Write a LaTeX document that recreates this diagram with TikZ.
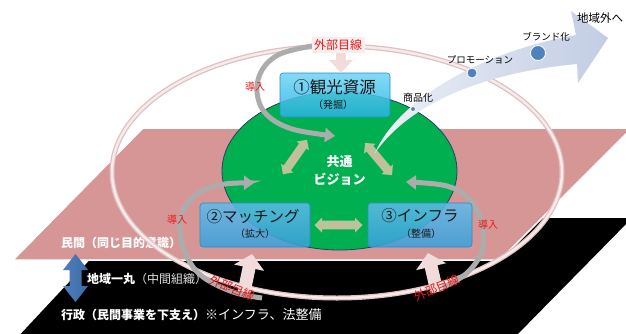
\documentclass[tikz,border=0pt]{standalone}
\usepackage{fontspec}
\setmainfont{Noto Sans CJK JP}
\usetikzlibrary{arrows.meta,shapes.arrows,shapes.geometric}
\definecolor{pinkbase}{RGB}{214,150,150}
\definecolor{greenv}{RGB}{0,176,80}
\definecolor{greenedge}{RGB}{40,60,110}
\definecolor{boxAtop}{RGB}{110,212,246}
\definecolor{boxAbot}{RGB}{40,178,228}
\definecolor{boxBtop}{RGB}{95,188,236}
\definecolor{boxBbot}{RGB}{55,160,220}
\definecolor{boxedge}{RGB}{40,140,200}
\definecolor{ringpink}{RGB}{222,192,192}
\definecolor{ringlight}{RGB}{246,234,234}
\definecolor{arcgray}{RGB}{172,172,172}
\definecolor{outpink}{RGB}{242,220,219}
\definecolor{kyogyo}{RGB}{186,196,152}
\definecolor{kyotext}{RGB}{212,182,166}
\definecolor{brandA}{RGB}{236,240,247}
\definecolor{brandB}{RGB}{194,205,228}
\definecolor{dotblue}{RGB}{79,129,189}
\definecolor{dotbluedark}{RGB}{60,105,165}
\definecolor{redlabel}{RGB}{235,25,25}
\definecolor{labelbg}{RGB}{248,238,238}
\definecolor{boxtext}{RGB}{25,25,25}
\tikzset{
  boxnode/.style={rounded corners=3pt, draw=boxedge, line width=0.6pt,
    fill opacity=0.85, minimum height=44pt, inner sep=0pt},
  maintxt/.style={text=boxtext, font=\fontsize{15.5}{17}\selectfont, inner sep=0pt},
  subtxt/.style={text=boxtext, font=\fontsize{10}{12}\selectfont, inner sep=0pt},
  garc/.style={draw=arcgray, line width=5pt, -{Triangle[length=10pt,width=14pt]}},
  dbl/.style={double arrow, fill=kyogyo, double arrow head extend=3pt,
    minimum width=15pt, inner sep=0.6pt, text=kyotext,
    font=\fontsize{7.5}{8}\selectfont},
  outarrow/.style={draw=outpink, line width=13pt, -{Triangle[length=14pt,width=30pt]}},
  redtxt/.style={text=redlabel, font=\fontsize{12}{13}\selectfont, inner sep=1pt},
  dounyu/.style={text=redlabel, font=\fontsize{10}{11}\selectfont, inner sep=0pt},
  brandtxt/.style={text=black, font=\fontsize{9.5}{10}\selectfont, inner sep=0pt},
  dot/.style={circle, fill=dotblue, draw=white, line width=0.8pt, inner sep=0pt},
  basetxt/.style={text=white, font=\fontsize{12}{13}\selectfont, inner sep=0pt, anchor=west}
}
\begin{document}
\begin{tikzpicture}[x=1pt,y=-1pt]
\useasboundingbox (0,0) rectangle (626,333);
\fill[white] (0,0) rectangle (626,333);
% layers
\fill[black] (129,218) -- (632,218) -- (512,340) -- (15,340) -- cycle;
\filldraw[fill=pinkbase, draw=white, line width=1.5pt] (143,128) -- (632,128) -- (500,260) -- (13,260) -- cycle;
% base texts
\node[basetxt] (minkan) at (61,243) {\bfseries 民間（同じ目的意識）};
\node[basetxt] (chiiki) at (87,279) {\bfseries 地域一丸\mdseries\color[RGB]{225,225,225}（中間組織）};
\node[basetxt] (gyosei) at (61,315) {\bfseries 行政（民間事業を下支え）\mdseries\fontsize{13}{14}\selectfont ※インフラ、法整備};
% outer ring
\draw[ringpink, line width=5pt] (337,172) ellipse [x radius=225pt, y radius=126pt];
\draw[ringlight, line width=2.5pt] (337,172) ellipse [x radius=225pt, y radius=126pt];
% green vision
\node[ellipse, fill=greenv, draw=greenedge, line width=0.8pt, minimum width=235pt, minimum height=158pt,
  align=center, text=white, font=\bfseries\fontsize{13}{18}\selectfont] (vision) at (339.5,171) {共通\\ビジョン};
% gray arcs
\draw[garc] plot[smooth, tension=0.6] coordinates {(312,46) (280,54) (262,70) (257,92) (266,114) (292,129) (335,136)};
\draw[garc] plot[smooth, tension=0.6] coordinates {(262,298) (233,292) (203,277) (187,257) (180,232) (183,210) (200,192) (225,184) (254,183)};
\draw[garc] plot[smooth, tension=0.6] coordinates {(432,291) (452,283) (470,270) (482,250) (482,223) (470,200) (447,186) (406,182)};
% boxes
\node[boxnode, top color=boxAtop, bottom color=boxAbot, minimum width=110pt] (b1) at (335,95) {};
\node[boxnode, top color=boxBtop, bottom color=boxBbot, minimum width=110pt] (b2) at (255,225) {};
\node[boxnode, top color=boxBtop, bottom color=boxBbot, minimum width=104pt] (b3) at (420,225) {};
\node[maintxt, font=\fontsize{16.5}{18}\selectfont] (b1t) at (334.5,87) {①観光資源};
\node[subtxt] (b1s) at (333,105) {（発掘）};
\node[maintxt] (b2t) at (253,217) {②マッチング};
\node[subtxt] (b2s) at (255,234) {（拡大）};
\node[maintxt] (b3t) at (420,216) {③インフラ};
\node[subtxt] (b3s) at (421,234) {（整備）};
% cooperation arrows
\node[dbl, rotate=55, minimum height=42pt] (k1) at (295,157) {協業};
\node[dbl, rotate=-50, minimum height=42pt] (k2) at (378.5,159) {協業};
\node[dbl, minimum height=48pt] (k3) at (338.5,225) {協業};
% brand arrow
\shade[left color=brandA, right color=brandB] (375,153) .. controls (398,100) and (480,52) .. (576,35)
  -- (571,11) -- (608,38) -- (578,83) -- (577,64) .. controls (490,72) and (412,100) .. cycle;
\node[dot, minimum size=5pt] (d1) at (413,109) {};
\node[dot, minimum size=10pt] (d2) at (472,73) {};
\node[dot, minimum size=15pt] (d3) at (538,53) {};
\node[brandtxt, font=\fontsize{10}{11}\selectfont] (l1) at (418,98) {商品化};
\node[brandtxt] (l2) at (480,60) {プロモーション};
\node[brandtxt] (l3) at (546,37) {ブランド化};
\node[brandtxt, font=\fontsize{11.5}{12}\selectfont] (l4) at (600,18) {地域外へ};
% external view arrows
\coordinate (oT0) at (341,52); \coordinate (oT1) at (341,73);
\draw[draw=outpink, line width=10pt, -{Triangle[length=13pt,width=23pt]}] (oT0) -- (oT1);
\node[redtxt, fill=labelbg, inner sep=2.5pt] (oTt) at (338,45) {外部目線};
\coordinate (oL0) at (244,292); \coordinate (oL1) at (252,254);
\draw[outarrow] (oL0) -- (oL1);
\coordinate (oR0) at (437,292); \coordinate (oR1) at (428,253);
\draw[outarrow] (oR0) -- (oR1);
\node[redtxt, rotate=-22] (oLt) at (232,288) {外部目線};
\node[redtxt, rotate=22] (oRt) at (437,288) {外部目線};
% introduce labels
\node[dounyu] (i1) at (255,87) {導入};
\node[dounyu] (i2) at (177,220) {導入};
\node[dounyu] (i3) at (488,225) {導入};
% unity double arrow
\shade[left color=dotblue, right color=dotbluedark] (75.5,254) -- (88,270) -- (81.5,270) -- (81.5,286) -- (88,286)
  -- (75.5,302) -- (63,286) -- (69.5,286) -- (69.5,270) -- (63,270) -- cycle;
\end{tikzpicture}
\end{document}
